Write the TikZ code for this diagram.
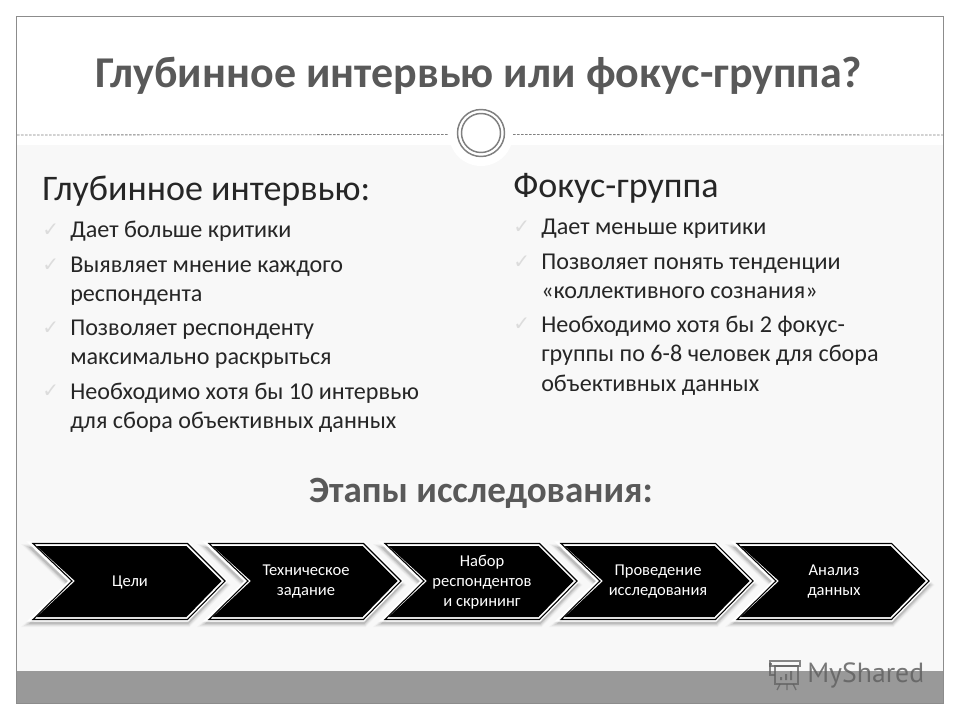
\documentclass[tikz,border=0pt]{standalone}
\usepackage{fontspec}
\setmainfont{Carlito}
\newfontfamily\checkfont{DejaVu Sans}
\newfontfamily\markfont{PT Sans}
\definecolor{panelbg}{HTML}{F8F8F8}
\definecolor{bandgray}{HTML}{999999}
\definecolor{framegray}{HTML}{8C8C8C}
\definecolor{titlegray}{HTML}{595959}
\definecolor{bodytext}{HTML}{262626}
\definecolor{checkgray}{HTML}{DCDCDC}
\tikzset{
  x=0.75pt,y=-0.75pt,
  titletext/.style={font=\fontsize{33}{36}\selectfont\bfseries,text=titlegray,inner sep=0,anchor=center},
  headtext/.style={font=\fontsize{27}{30}\selectfont,text=black!85,inner sep=0,anchor=west},
  itemtext/.style={font=\fontsize{18.1}{21.9}\selectfont,text=bodytext,inner sep=0,anchor=north west,align=left},
  checkmark/.style={font=\checkfont\fontsize{15}{16}\selectfont,text=checkgray,inner sep=0,anchor=west},
  stagetext/.style={font=\fontsize{12.4}{15}\selectfont,text=white,inner sep=0,anchor=center,align=center},
  ringline/.style={draw=black!50,line width=1.1pt,fill=white},
}
\newcommand{\chevronstage}[3]{%
  \begin{scope}[shift={(#1,0)}]
    \foreach \wd/\op in {8/0.03,6/0.05,4/0.07,2/0.10}{
      \draw[draw=black,line width=\wd*0.75pt,opacity=\op,line join=miter]
        (-2,548) -- (155,548) -- (192,585) -- (155,623) -- (-2,623) -- (37,585) -- cycle;
    }
    \draw[white,line width=4pt,fill=white,line join=miter]
      (0,544) -- (154,544) -- (191,581) -- (154,619) -- (0,619) -- (39,581) -- cycle;
    \draw[black,line width=0.8pt,fill=white,line join=miter]
      (0,543.5) -- (154.5,543.5) -- (192,581) -- (154.5,619.5) -- (0,619.5) -- (39,581) -- cycle;
    \fill[black] (3.5,546) -- (153.5,546) -- (188.5,581) -- (153.5,617) -- (3.5,617) -- (42,581) -- cycle;
    \node[stagetext] (#2) at (97,582) {#3};
  \end{scope}}
\begin{document}
\begin{tikzpicture}
\useasboundingbox (0,0) rectangle (960,720);
\fill[white] (0,0) rectangle (960,720);
% slide panels
\fill[panelbg] (17,145) rectangle (943,671);
\fill[bandgray] (17,671) rectangle (943,703);
\draw[framegray,line width=0.8pt] (16.5,16.5) rectangle (943.5,703.5);
% divider
\coordinate (divl) at (17,135);
\coordinate (divr) at (943,135);
\node[circle,fill=white,inner sep=0,minimum size=64*0.75pt] (ringhalo) at (481,134) {};
\draw[black!50,line width=0.6pt,dash pattern=on 2pt off 1pt] (divl) -- (448,134.5);
\draw[black!50,line width=0.6pt,dash pattern=on 2pt off 1pt] (513,134.5) -- (divr);
\node[circle,ringline,inner sep=0,minimum size=47*0.75pt] (ringouter) at (481,133) {};
\node[circle,ringline,inner sep=0,minimum size=39*0.75pt] (ringinner) at (481,133) {};
% title
\node[titletext] (title) at (479,76) {Глубинное интервью или фокус-группа?};
% left column
\node[headtext] (lefthead) at (42,191) {Глубинное интервью:};
\node[checkmark] (lc1) at (42,230) {✓};
\node[itemtext] (li1) at (70,221) {Дает больше критики};
\node[checkmark] (lc2) at (42,265) {✓};
\node[itemtext] (li2) at (70,257) {Выявляет мнение каждого\\респондента};
\node[checkmark] (lc3) at (42,328) {✓};
\node[itemtext] (li3) at (70,320) {Позволяет респонденту\\максимально раскрыться};
\node[checkmark] (lc4) at (42,391) {✓};
\node[itemtext] (li4) at (70,383) {Необходимо хотя бы 10 интервью\\для сбора объективных данных};
% right column
\node[headtext] (righthead) at (513,188) {Фокус-группа};
\node[checkmark] (rc1) at (513,227) {✓};
\node[itemtext] (ri1) at (541,219) {Дает меньше критики};
\node[checkmark] (rc2) at (513,262) {✓};
\node[itemtext] (ri2) at (541,254) {Позволяет понять тенденции\\«коллективного сознания»};
\node[checkmark] (rc3) at (513,324) {✓};
\node[itemtext] (ri3) at (541,316) {Необходимо хотя бы 2 фокус-\\группы по 6-8 человек для сбора\\объективных данных};
% stages heading
\node[font=\fontsize{27.8}{30}\selectfont\bfseries,text=titlegray,inner sep=0] (stages) at (481,493) {Этапы исследования:};
% chevrons
\chevronstage{33}{s1}{Цели}
\chevronstage{209}{s2}{Техническое\\задание}
\chevronstage{385}{s3}{Набор\\респондентов\\и скрининг}
\chevronstage{561}{s4}{Проведение\\исследования}
\chevronstage{737}{s5}{Анализ\\данных}
% watermark
\begin{scope}[draw=black!62,line width=1pt,opacity=0.75]
  \draw (772,664) -- (770,664) -- (770,675) -- (775,675);
  \draw (770,661) rectangle (800,666);
  \draw (775,666) rectangle (798,684);
  \fill[black!62] (780,677) rectangle (782,680) (785,674) rectangle (787,680) (790,671) rectangle (792,680);
  \draw (780,684) -- (777,690) (787,684) -- (787,690) (793,684) -- (796,690);
\end{scope}
\node[font=\markfont\fontsize{20.8}{24}\selectfont,text=black!62,opacity=0.85,inner sep=0,anchor=west] (mark) at (807,675) {MyShared};
\end{tikzpicture}
\end{document}
